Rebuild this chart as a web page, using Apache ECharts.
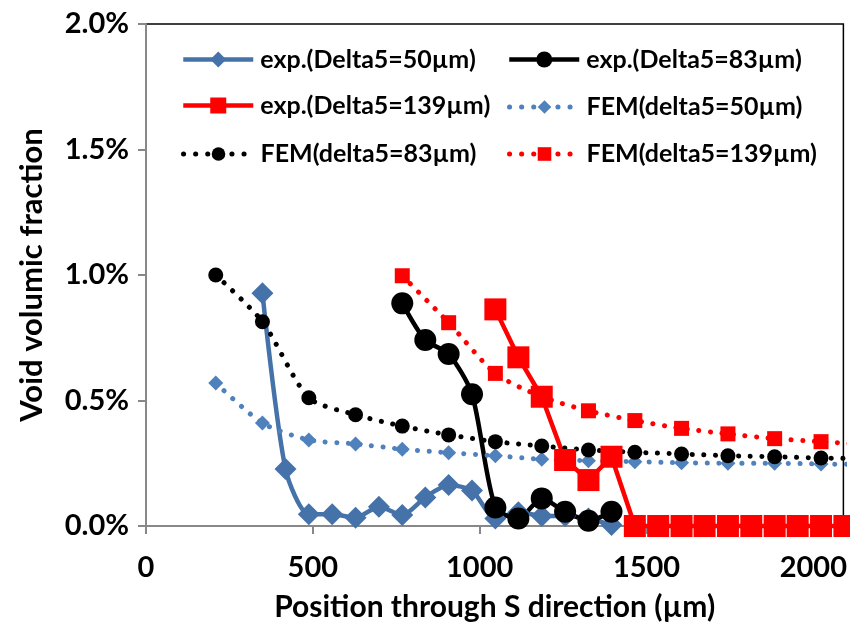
<!DOCTYPE html>
<html>
<head>
<meta charset="utf-8">
<script src="https://cdn.jsdelivr.net/npm/echarts@6/dist/echarts.min.js"></script>
<style>
html,body{margin:0;padding:0;background:#fff;}
#chart{width:850px;height:630px;}
</style>
</head>
<body>
<div id="chart"></div>
<script>
// ---- data (x in µm, y in %) ----
const xFEM = [209, 349, 488, 628, 768, 907, 1047, 1186, 1326, 1465, 1605, 1744, 1884, 2023, 2163];
const fem50 = [0.57, 0.41, 0.343, 0.327, 0.306, 0.292, 0.28, 0.266, 0.26, 0.256, 0.252, 0.25, 0.25, 0.247, 0.245];
const fem83 = [1.0, 0.814, 0.511, 0.443, 0.398, 0.363, 0.336, 0.319, 0.303, 0.294, 0.287, 0.28, 0.276, 0.271, 0.268];
const xFEM139 = [768, 907, 1047, 1186, 1326, 1465, 1605, 1744, 1884, 2023, 2163];
const fem139 = [0.997, 0.81, 0.608, 0.515, 0.459, 0.42, 0.389, 0.367, 0.348, 0.336, 0.325];

const xExp50 = [349, 418, 488, 558, 628, 698, 768, 837, 907, 977, 1047, 1116, 1186, 1256, 1326, 1395];
const exp50 = [0.927, 0.227, 0.047, 0.047, 0.033, 0.077, 0.044, 0.114, 0.163, 0.141, 0.03, 0.055, 0.04, 0.04, 0.03, 0.004];
const xExp83 = [768, 837, 907, 977, 1047, 1116, 1186, 1256, 1326, 1395];
const exp83 = [0.887, 0.741, 0.685, 0.525, 0.074, 0.03, 0.11, 0.057, 0.021, 0.057];
const xExp139 = [1047, 1116, 1186, 1256, 1326, 1395, 1465, 1535, 1605, 1674, 1744, 1814, 1884, 1953, 2023, 2093];
const exp139 = [0.863, 0.672, 0.515, 0.263, 0.183, 0.276, 0, 0, 0, 0, 0, 0, 0, 0, 0, 0];

const seriesNames = ['exp.(Delta5=50µm)', 'exp.(Delta5=83µm)', 'exp.(Delta5=139µm)',
  'FEM(delta5=50µm)', 'FEM(delta5=83µm)', 'FEM(delta5=139µm)'];
const xTicks = [0, 500, 1000, 1500, 2000];
const yTicks = [0, 0.5, 1.0, 1.5, 2.0];

function zip(xs, ys) { return xs.map((x, i) => [x, ys[i]]); }

const FONT = 'Lato';
const dotted = [0.1, 11.5];

const chart = echarts.init(document.getElementById('chart'), null, {renderer: 'canvas'});

const legendPos = [
  [181, 57], [507, 57],
  [181, 103], [507, 103],
  [181, 150], [507, 150]
];
const isFem = [false, false, false, true, true, true];
const legends = seriesNames.map((n, i) => {
  const h = isFem[i] ? 17 : 20;
  return {
    data: [n],
    left: legendPos[i][0],
    top: legendPos[i][1] - h / 2,
    itemWidth: 70,
    itemHeight: h,
    padding: 0,
    selectedMode: false,
    lineStyle: isFem[i] ? {width: 5, type: [0.1, 12], cap: 'round'} : {width: 4.5},
    textStyle: {fontFamily: FONT, fontWeight: 'bold', fontSize: 25, color: '#000', padding: [0, 0, 0, 2]}
  };
});

const expStyle = (color, sym) => ({
  type: 'line', symbol: sym, symbolSize: 22, showSymbol: true,
  lineStyle: {color: color, width: 4.5},
  itemStyle: {color: color},
  emphasis: {disabled: true}
});
const femStyle = (color, sym) => ({
  type: 'line', symbol: sym, symbolSize: 15, showSymbol: true,
  lineStyle: {color: color, width: 5, type: dotted, cap: 'round'},
  itemStyle: {color: color},
  emphasis: {disabled: true},
  smooth: 0.25
});

const option = {
  animation: false,
  backgroundColor: '#fff',
  legend: legends,
  grid: {left: 146, right: 5, top: 24, bottom: 104, show: true, borderColor: '#000', borderWidth: 1.5, containLabel: false},
  xAxis: {
    type: 'value', min: 0, max: 2090, interval: 500,
    name: 'Position through S direction (µm)', nameLocation: 'middle', nameGap: 66,
    nameTextStyle: {fontFamily: FONT, fontWeight: 'bold', fontSize: 30, color: '#000'},
    axisLine: {show: true, lineStyle: {color: '#888', width: 2}},
    axisTick: {show: true, length: 8, lineStyle: {color: '#888', width: 2}},
    splitLine: {show: false},
    axisLabel: {fontFamily: FONT, fontWeight: 'bold', fontSize: 29, color: '#000', margin: 27,
      formatter: v => (xTicks.indexOf(v) >= 0 ? String(v) : '')}
  },
  yAxis: {
    type: 'value', min: 0, max: 2, interval: 0.5,
    name: 'Void volumic fraction', nameLocation: 'middle', nameGap: 99,
    nameTextStyle: {fontFamily: FONT, fontWeight: 'bold', fontSize: 31, color: '#000'},
    axisLine: {show: true, lineStyle: {color: '#888', width: 2}},
    axisTick: {show: true, length: 8, lineStyle: {color: '#888', width: 2}},
    splitLine: {show: false},
    axisLabel: {fontFamily: FONT, fontWeight: 'bold', fontSize: 29, color: '#000', margin: 17,
      formatter: v => (yTicks.indexOf(v) >= 0 ? v.toFixed(1) + '%' : '')}
  },
  series: [
    Object.assign(expStyle('#4672AA', 'diamond'), {name: seriesNames[0], data: zip(xExp50, exp50), smooth: 0.25}),
    Object.assign(expStyle('#000000', 'circle'), {name: seriesNames[1], data: zip(xExp83, exp83), smooth: 0.25}),
    Object.assign(expStyle('#FF0000', 'rect'), {name: seriesNames[2], data: zip(xExp139, exp139), clip: false}),
    Object.assign(femStyle('#4F81BD', 'diamond'), {name: seriesNames[3], data: zip(xFEM, fem50)}),
    Object.assign(femStyle('#000000', 'circle'), {name: seriesNames[4], data: zip(xFEM, fem83)}),
    Object.assign(femStyle('#FF0000', 'rect'), {name: seriesNames[5], data: zip(xFEM139, fem139)})
  ]
};
chart.setOption(option);
</script>
</body>
</html>
